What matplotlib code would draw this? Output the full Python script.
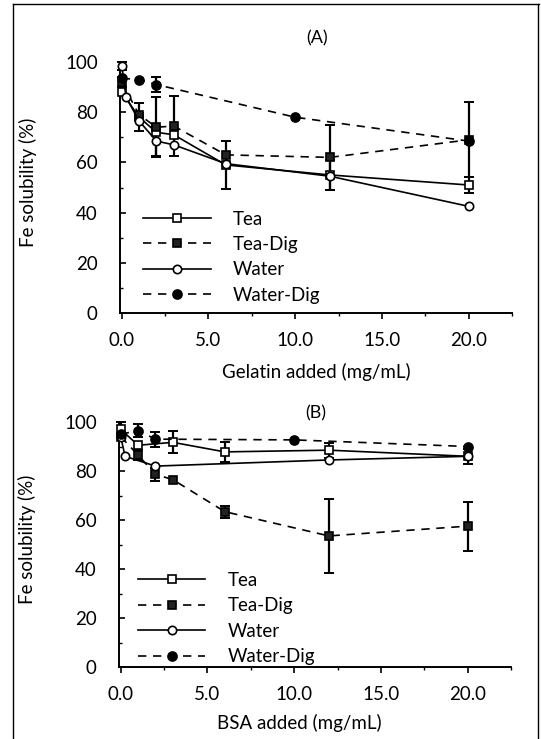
import matplotlib
matplotlib.use("Agg")
import matplotlib.pyplot as plt
from matplotlib.lines import Line2D
from matplotlib.ticker import MultipleLocator

plt.rcParams['font.family'] = ['Lato', 'DejaVu Sans']

series_names = ["Tea", "Tea-Dig", "Water", "Water-Dig"]

# Panel A: gelatin
gel_tea_x = [0, 1, 2, 3, 6, 12, 20]
gel_tea_y = [88, 78, 72, 71, 59, 55, 51]
gel_tea_err = [0, 5.5, 0, 0, 9.5, 6, 3]

gel_teadig_x = [0, 1, 2, 3, 6, 12, 20]
gel_teadig_y = [92, 79, 74, 74.5, 63, 62, 69]
gel_teadig_err = [2, 0, 12, 12, 0, 13, 15]

gel_water_x = [0, 0.25, 1, 2, 3, 6, 12, 20]
gel_water_y = [98.5, 86, 76.5, 68.5, 67, 59.5, 54.5, 42.5]
gel_water_err = [1.5, 0, 0, 6, 0, 0, 0, 0]

gel_waterdig_x = [0, 1, 2, 10, 20]
gel_waterdig_y = [93.5, 93, 91, 78, 68.5]
gel_waterdig_err = [0, 0, 3, 0, 0]

# Panel B: BSA
bsa_tea_x = [0, 1, 3, 6, 12, 20]
bsa_tea_y = [97, 90.5, 91.7, 87.8, 88.5, 86]
bsa_tea_err = [3, 0, 4.5, 4, 3, 3]

bsa_teadig_x = [0, 1, 2, 3, 6, 12, 20]
bsa_teadig_y = [94, 86.5, 78.6, 76.5, 63.4, 53.5, 57.5]
bsa_teadig_err = [0, 2, 2.5, 0, 2.5, 15, 10]

bsa_water_x = [0, 0.25, 2, 12, 20]
bsa_water_y = [94, 86, 82, 84.5, 86]
bsa_water_err = [0, 0, 0, 0, 0]

bsa_waterdig_x = [0, 1, 2, 10, 20]
bsa_waterdig_y = [95, 96.5, 93, 92.7, 90]
bsa_waterdig_err = [0, 2.5, 3, 0, 0]

x_ticks = [0, 5, 10, 15, 20]
x_ticklabels = ["0.0", "5.0", "10.0", "15.0", "20.0"]
y_ticks = [0, 20, 40, 60, 80, 100]

styles = {
    "Tea": dict(ls='-', marker='s', mfc='white', ms=5.5),
    "Tea-Dig": dict(ls=(0, (5, 4)), marker='s', mfc='#222222', ms=6),
    "Water": dict(ls='-', marker='o', mfc='white', ms=6),
    "Water-Dig": dict(ls=(0, (5, 4)), marker='o', mfc='black', ms=6.5),
}

fig = plt.figure(figsize=(5.41, 7.39), dpi=100)
W, H = 541, 739

def px_axes(l, r, t, b):
    return fig.add_axes([l / W, 1 - b / H, (r - l) / W, (b - t) / H])

axA = px_axes(120, 512, 62, 313)
axB = px_axes(119, 511, 422, 667)

def draw(ax, data, title, title_y, xlabel, xlabel_x, xlabel_y, leg_anchor):
    handles = []
    for name, (xs, ys, es) in zip(series_names, data):
        st = styles[name]
        ln, = ax.plot(xs, ys, color='black', lw=1.2, ls=st['ls'], marker=st['marker'],
                      mfc=st['mfc'], mec='black', mew=1.2, ms=st['ms'], clip_on=False,
                      zorder=3, label=name)
        ex = [x for x, e in zip(xs, es) if e > 0]
        ey = [y for y, e in zip(ys, es) if e > 0]
        ee = [e for e in es if e > 0]
        if ex:
            ax.errorbar(ex, ey, yerr=ee, fmt='none', ecolor='black', elinewidth=1.6,
                        capsize=3.5, capthick=1.4, clip_on=False, zorder=2)
        handles.append(ln)
    ax.set_xlim(-0.1, 22.5)
    ax.set_ylim(0, 100)
    ax.spines['top'].set_visible(False)
    ax.spines['right'].set_visible(False)
    ax.spines['left'].set_linewidth(1.4)
    ax.spines['bottom'].set_linewidth(1.4)
    ax.set_xticks(x_ticks)
    ax.set_xticklabels(x_ticklabels)
    ax.xaxis.set_minor_locator(MultipleLocator(2.5))
    ax.set_yticks(y_ticks)
    ax.yaxis.set_minor_locator(MultipleLocator(10))
    ax.tick_params(axis='x', which='major', direction='out', length=4, width=1.2,
                   labelsize=13.5, pad=10)
    ax.tick_params(axis='x', which='minor', direction='out', length=2.5, width=1.0)
    ax.tick_params(axis='y', which='major', direction='in', length=4, width=1.2,
                   labelsize=13.5, pad=16)
    ax.tick_params(axis='y', which='minor', direction='in', length=2.5, width=1.0)
    ax.set_ylabel("Fe solubility (%)", fontsize=13.5)
    ax.yaxis.set_label_coords(-0.212, 0.52)
    ax.set_xlabel(xlabel, fontsize=13.5)
    ax.xaxis.set_label_coords(xlabel_x, xlabel_y)
    ax.text(0.503, title_y, title, transform=ax.transAxes, ha='center', va='center',
            fontsize=13)
    ax.legend(handles=handles, loc='upper left', bbox_to_anchor=leg_anchor,
              frameon=False, fontsize=13.5, handlelength=3.6, handletextpad=1.2,
              labelspacing=0.45, borderpad=0, borderaxespad=0)

draw(axA,
     [(gel_tea_x, gel_tea_y, gel_tea_err),
      (gel_teadig_x, gel_teadig_y, gel_teadig_err),
      (gel_water_x, gel_water_y, gel_water_err),
      (gel_waterdig_x, gel_waterdig_y, gel_waterdig_err)],
     "(A)", 1.096, "Gelatin added (mg/mL)", 0.5, -0.2,
     (0.059, 0.408))

draw(axB,
     [(bsa_tea_x, bsa_tea_y, bsa_tea_err),
      (bsa_teadig_x, bsa_teadig_y, bsa_teadig_err),
      (bsa_water_x, bsa_water_y, bsa_water_err),
      (bsa_waterdig_x, bsa_waterdig_y, bsa_waterdig_err)],
     "(B)", 1.037, "BSA added (mg/mL)", 0.46, -0.19,
     (0.048, 0.388))

# outer frame
for (x0, y0, x1, y1) in [(13, 4, 539, 4), (13, 4, 13, 739), (538, 4, 538, 739)]:
    fig.add_artist(Line2D([x0 / W, x1 / W], [1 - y0 / H, 1 - y1 / H],
                          transform=fig.transFigure, color='black', lw=1.0))

fig.savefig("out.png", dpi=100)
